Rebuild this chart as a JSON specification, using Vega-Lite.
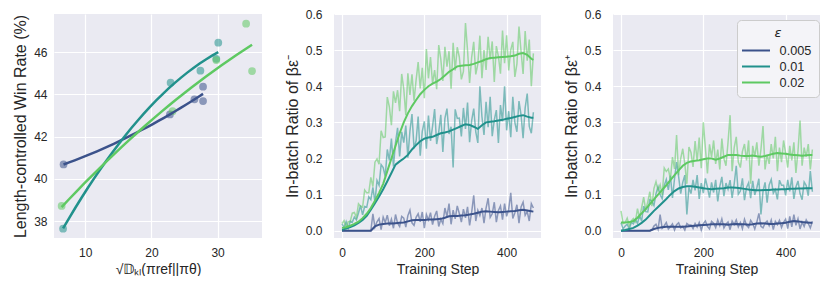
{
"$schema": "https://vega.github.io/schema/vega-lite/v6.json",
"background": "white",
"padding": {"left": 12, "top": 8, "right": 4, "bottom": 0},
"bounds": "flush",
"spacing": 72,
"resolve": {"legend": {"color": "independent"}},
"config": {
 "view": {"fill": "#eaeaf2", "stroke": null},
 "font": "Liberation Sans",
 "axis": {"domain": false, "ticks": false, "gridColor": "#ffffff", "gridWidth": 1.2, "labelFont": "Liberation Sans", "labelFontSize": 12, "labelColor": "#262626", "titleFont": "Liberation Sans", "titleFontSize": 14, "titleFontWeight": "normal", "titleColor": "#262626", "labelFlush": false},
 "axisX": {"labelPadding": 9, "titlePadding": 4},
 "axisY": {"labelPadding": 12, "titlePadding": 5, "titleFontSize": 16}
},
"datasets": {
 "scatter": [
  {"e":"0.005","kl":6.74,"wr":40.68},{"e":"0.005","kl":22.8,"wr":43.05},{"e":"0.005","kl":26.5,"wr":43.76},{"e":"0.005","kl":27.8,"wr":44.36},{"e":"0.005","kl":27.8,"wr":43.68},
  {"e":"0.01","kl":6.67,"wr":37.64},{"e":"0.01","kl":22.9,"wr":44.55},{"e":"0.01","kl":27.4,"wr":45.12},{"e":"0.01","kl":29.8,"wr":45.68},{"e":"0.01","kl":30.1,"wr":46.44},
  {"e":"0.02","kl":6.45,"wr":38.72},{"e":"0.02","kl":23.2,"wr":43.2},{"e":"0.02","kl":29.8,"wr":45.62},{"e":"0.02","kl":34.3,"wr":47.34},{"e":"0.02","kl":35.2,"wr":45.1}
 ],
 "raw": [
  {"e":"0.005","x":0,"m":0,"p":0},{"e":"0.005","x":5,"m":0,"p":0},{"e":"0.005","x":10,"m":0,"p":0},{"e":"0.005","x":15,"m":0,"p":0},{"e":"0.005","x":20,"m":0,"p":0},{"e":"0.005","x":25,"m":0,"p":0},{"e":"0.005","x":30,"m":0,"p":0},{"e":"0.005","x":35,"m":0,"p":0},{"e":"0.005","x":40,"m":0,"p":0},{"e":"0.005","x":45,"m":0,"p":0},{"e":"0.005","x":50,"m":0,"p":0},{"e":"0.005","x":55,"m":0,"p":0},{"e":"0.005","x":60,"m":0,"p":0},{"e":"0.005","x":65,"m":0,"p":0},{"e":"0.005","x":70,"m":0,"p":0},
  {"e":"0.005","x":75,"m":0.047,"p":0.002},{"e":"0.005","x":80,"m":0.010,"p":0.013},{"e":"0.005","x":85,"m":0.025,"p":0.018},{"e":"0.005","x":90,"m":0.034,"p":0.004},{"e":"0.005","x":95,"m":0.003,"p":0.045},{"e":"0.005","x":100,"m":0.038,"p":0.007},{"e":"0.005","x":105,"m":0.023,"p":0.014},{"e":"0.005","x":110,"m":0.043,"p":0.023},{"e":"0.005","x":115,"m":0.014,"p":0.005},{"e":"0.005","x":120,"m":0.032,"p":0.011},{"e":"0.005","x":125,"m":0.007,"p":0.019},{"e":"0.005","x":130,"m":0.045,"p":0.002},{"e":"0.005","x":135,"m":0.021,"p":0.017},{"e":"0.005","x":140,"m":0.012,"p":0.022},{"e":"0.005","x":145,"m":0.040,"p":0.008},
  {"e":"0.005","x":150,"m":0.035,"p":0.012},{"e":"0.005","x":155,"m":0.010,"p":0.002},{"e":"0.005","x":160,"m":0.042,"p":0.020},{"e":"0.005","x":165,"m":0.057,"p":0.016},{"e":"0.005","x":170,"m":0.022,"p":0.016},{"e":"0.005","x":175,"m":0.015,"p":0.006},{"e":"0.005","x":180,"m":0.037,"p":0.020},{"e":"0.005","x":185,"m":0.047,"p":0.010},{"e":"0.005","x":190,"m":0.025,"p":0.023},{"e":"0.005","x":195,"m":0.052,"p":0.002},{"e":"0.005","x":200,"m":0.007,"p":0.020},{"e":"0.005","x":205,"m":0.045,"p":0.027},{"e":"0.005","x":210,"m":0.030,"p":0.012},{"e":"0.005","x":215,"m":0.050,"p":0.005},{"e":"0.005","x":220,"m":0.017,"p":0.026},{"e":"0.005","x":225,"m":0.040,"p":0.021},{"e":"0.005","x":230,"m":0.055,"p":0.009},{"e":"0.005","x":235,"m":0.012,"p":0.030},{"e":"0.005","x":240,"m":0.032,"p":0.014},{"e":"0.005","x":245,"m":0.020,"p":0.033},
  {"e":"0.005","x":250,"m":0.063,"p":0.008},{"e":"0.005","x":255,"m":0.039,"p":0.018},{"e":"0.005","x":260,"m":0.075,"p":0.024},{"e":"0.005","x":265,"m":0.018,"p":0.003},{"e":"0.005","x":270,"m":0.057,"p":0.027},{"e":"0.005","x":275,"m":0.033,"p":0.017},{"e":"0.005","x":280,"m":0.069,"p":0.030},{"e":"0.005","x":285,"m":0.048,"p":0.011},{"e":"0.005","x":290,"m":0.024,"p":0.023},{"e":"0.005","x":295,"m":0.060,"p":0.006},{"e":"0.005","x":300,"m":0.036,"p":0.032},{"e":"0.005","x":305,"m":0.066,"p":0.015},{"e":"0.005","x":310,"m":0.015,"p":0.009},{"e":"0.005","x":315,"m":0.051,"p":0.029},{"e":"0.005","x":320,"m":0.098,"p":0.020},{"e":"0.005","x":325,"m":0.027,"p":0.005},{"e":"0.005","x":330,"m":0.057,"p":0.024},{"e":"0.005","x":335,"m":0.042,"p":0.048},{"e":"0.005","x":340,"m":0.063,"p":0.012},{"e":"0.005","x":345,"m":0.021,"p":0.008},
  {"e":"0.005","x":350,"m":0.063,"p":0.021},{"e":"0.005","x":355,"m":0.090,"p":0.027},{"e":"0.005","x":360,"m":0.037,"p":0.014},{"e":"0.005","x":365,"m":0.047,"p":0.030},{"e":"0.005","x":370,"m":0.079,"p":0.003},{"e":"0.005","x":375,"m":0.024,"p":0.026},{"e":"0.005","x":380,"m":0.056,"p":0.017},{"e":"0.005","x":385,"m":0.069,"p":0.029},{"e":"0.005","x":390,"m":0.031,"p":0.009},{"e":"0.005","x":395,"m":0.075,"p":0.023},{"e":"0.005","x":400,"m":0.040,"p":0.032},{"e":"0.005","x":405,"m":0.059,"p":0.006},{"e":"0.005","x":410,"m":0.105,"p":0.040},{"e":"0.005","x":415,"m":0.034,"p":0.011},{"e":"0.005","x":420,"m":0.050,"p":0.045},{"e":"0.005","x":425,"m":0.072,"p":0.015},{"e":"0.005","x":430,"m":0.021,"p":0.033},{"e":"0.005","x":435,"m":0.066,"p":0.005},{"e":"0.005","x":440,"m":0.079,"p":0.024},{"e":"0.005","x":445,"m":0.043,"p":0.012},{"e":"0.005","x":450,"m":0.053,"p":0.030},{"e":"0.005","x":455,"m":0.027,"p":0.020},{"e":"0.005","x":460,"m":0.075,"p":0.008},{"e":"0.005","x":465,"m":0.063,"p":0.026},

  {"e":"0.01","x":0,"m":0.019,"p":0.022},{"e":"0.01","x":5,"m":0.009,"p":0.005},{"e":"0.01","x":10,"m":0.025,"p":0.013},{"e":"0.01","x":15,"m":0.006,"p":0.018},{"e":"0.01","x":20,"m":0.027,"p":0.005},{"e":"0.01","x":25,"m":0.024,"p":0.023},{"e":"0.01","x":30,"m":0.038,"p":0.019},{"e":"0.01","x":35,"m":0.030,"p":0.032},{"e":"0.01","x":40,"m":0.049,"p":0.020},{"e":"0.01","x":45,"m":0.070,"p":0.042},
  {"e":"0.01","x":50,"m":0.044,"p":0.027},{"e":"0.01","x":55,"m":0.067,"p":0.068},{"e":"0.01","x":60,"m":0.065,"p":0.053},{"e":"0.01","x":65,"m":0.094,"p":0.052},{"e":"0.01","x":70,"m":0.086,"p":0.086},{"e":"0.01","x":75,"m":0.120,"p":0.082},{"e":"0.01","x":80,"m":0.079,"p":0.070},{"e":"0.01","x":85,"m":0.139,"p":0.103},{"e":"0.01","x":90,"m":0.126,"p":0.122},{"e":"0.01","x":95,"m":0.183,"p":0.100},
  {"e":"0.01","x":100,"m":0.175,"p":0.089},{"e":"0.01","x":105,"m":0.150,"p":0.125},{"e":"0.01","x":110,"m":0.225,"p":0.142},{"e":"0.01","x":115,"m":0.195,"p":0.113},{"e":"0.01","x":120,"m":0.255,"p":0.153},{"e":"0.01","x":125,"m":0.178,"p":0.091},{"e":"0.01","x":130,"m":0.245,"p":0.144},{"e":"0.01","x":135,"m":0.285,"p":0.190},{"e":"0.01","x":140,"m":0.206,"p":0.150},{"e":"0.01","x":145,"m":0.274,"p":0.103},
  {"e":"0.01","x":150,"m":0.244,"p":0.134},{"e":"0.01","x":155,"m":0.291,"p":0.154},{"e":"0.01","x":160,"m":0.202,"p":0.045},{"e":"0.01","x":165,"m":0.276,"p":0.120},{"e":"0.01","x":170,"m":0.323,"p":0.103},{"e":"0.01","x":175,"m":0.228,"p":0.141},{"e":"0.01","x":180,"m":0.249,"p":0.112},{"e":"0.01","x":185,"m":0.316,"p":0.154},{"e":"0.01","x":190,"m":0.208,"p":0.088},{"e":"0.01","x":195,"m":0.275,"p":0.132},
  {"e":"0.01","x":200,"m":0.303,"p":0.104},{"e":"0.01","x":205,"m":0.227,"p":0.145},{"e":"0.01","x":210,"m":0.319,"p":0.121},{"e":"0.01","x":215,"m":0.249,"p":0.092},{"e":"0.01","x":220,"m":0.289,"p":0.134},{"e":"0.01","x":225,"m":0.337,"p":0.106},{"e":"0.01","x":230,"m":0.240,"p":0.141},{"e":"0.01","x":235,"m":0.274,"p":0.081},{"e":"0.01","x":240,"m":0.321,"p":0.123},{"e":"0.01","x":245,"m":0.218,"p":0.149},
  {"e":"0.01","x":250,"m":0.311,"p":0.096},{"e":"0.01","x":255,"m":0.338,"p":0.132},{"e":"0.01","x":260,"m":0.268,"p":0.115},{"e":"0.01","x":265,"m":0.288,"p":0.140},{"e":"0.01","x":270,"m":0.175,"p":0.091},{"e":"0.01","x":275,"m":0.336,"p":0.130},{"e":"0.01","x":280,"m":0.311,"p":0.180},{"e":"0.01","x":285,"m":0.312,"p":0.101},{"e":"0.01","x":290,"m":0.261,"p":0.110},{"e":"0.01","x":295,"m":0.340,"p":0.145},
  {"e":"0.01","x":300,"m":0.282,"p":0.085},{"e":"0.01","x":305,"m":0.355,"p":0.120},{"e":"0.01","x":310,"m":0.245,"p":0.133},{"e":"0.01","x":315,"m":0.305,"p":0.090},{"e":"0.01","x":320,"m":0.338,"p":0.138},{"e":"0.01","x":325,"m":0.274,"p":0.099},{"e":"0.01","x":330,"m":0.243,"p":0.119},{"e":"0.01","x":335,"m":0.400,"p":0.144},{"e":"0.01","x":340,"m":0.316,"p":0.045},{"e":"0.01","x":345,"m":0.265,"p":0.109},
  {"e":"0.01","x":350,"m":0.357,"p":0.134},{"e":"0.01","x":355,"m":0.287,"p":0.078},{"e":"0.01","x":360,"m":0.371,"p":0.127},{"e":"0.01","x":365,"m":0.262,"p":0.142},{"e":"0.01","x":370,"m":0.307,"p":0.104},{"e":"0.01","x":375,"m":0.334,"p":0.114},{"e":"0.01","x":380,"m":0.243,"p":0.087},{"e":"0.01","x":385,"m":0.348,"p":0.140},{"e":"0.01","x":390,"m":0.303,"p":0.126},{"e":"0.01","x":395,"m":0.400,"p":0.126},
  {"e":"0.01","x":400,"m":0.278,"p":0.098},{"e":"0.01","x":405,"m":0.331,"p":0.141},{"e":"0.01","x":410,"m":0.259,"p":0.109},{"e":"0.01","x":415,"m":0.371,"p":0.148},{"e":"0.01","x":420,"m":0.299,"p":0.088},{"e":"0.01","x":425,"m":0.274,"p":0.121},{"e":"0.01","x":430,"m":0.359,"p":0.138},{"e":"0.01","x":435,"m":0.321,"p":0.103},{"e":"0.01","x":440,"m":0.256,"p":0.086},{"e":"0.01","x":445,"m":0.340,"p":0.135},
  {"e":"0.01","x":450,"m":0.380,"p":0.125},{"e":"0.01","x":455,"m":0.289,"p":0.097},{"e":"0.01","x":460,"m":0.270,"p":0.165},{"e":"0.01","x":465,"m":0.328,"p":0.108},

  {"e":"0.02","x":0,"m":0.020,"p":0.055},{"e":"0.02","x":5,"m":0.028,"p":0.020},{"e":"0.02","x":10,"m":0.008,"p":0.023},{"e":"0.02","x":15,"m":0.025,"p":0.035},{"e":"0.02","x":20,"m":0.026,"p":0.014},{"e":"0.02","x":25,"m":0.049,"p":0.027},{"e":"0.02","x":30,"m":0.051,"p":0.034},{"e":"0.02","x":35,"m":0.037,"p":0.025},{"e":"0.02","x":40,"m":0.075,"p":0.061},{"e":"0.02","x":45,"m":0.068,"p":0.036},
  {"e":"0.02","x":50,"m":0.065,"p":0.063},{"e":"0.02","x":55,"m":0.113,"p":0.093},{"e":"0.02","x":60,"m":0.105,"p":0.057},{"e":"0.02","x":65,"m":0.105,"p":0.080},{"e":"0.02","x":70,"m":0.148,"p":0.108},{"e":"0.02","x":75,"m":0.122,"p":0.068},{"e":"0.02","x":80,"m":0.190,"p":0.117},{"e":"0.02","x":85,"m":0.199,"p":0.136},{"e":"0.02","x":90,"m":0.184,"p":0.111},{"e":"0.02","x":95,"m":0.277,"p":0.127},
  {"e":"0.02","x":100,"m":0.258,"p":0.099},{"e":"0.02","x":105,"m":0.260,"p":0.174},{"e":"0.02","x":110,"m":0.370,"p":0.164},{"e":"0.02","x":115,"m":0.343,"p":0.171},{"e":"0.02","x":120,"m":0.292,"p":0.143},{"e":"0.02","x":125,"m":0.386,"p":0.204},{"e":"0.02","x":130,"m":0.354,"p":0.171},{"e":"0.02","x":135,"m":0.389,"p":0.265},{"e":"0.02","x":140,"m":0.331,"p":0.154},{"e":"0.02","x":145,"m":0.434,"p":0.200},
  {"e":"0.02","x":150,"m":0.393,"p":0.227},{"e":"0.02","x":155,"m":0.320,"p":0.185},{"e":"0.02","x":160,"m":0.436,"p":0.130},{"e":"0.02","x":165,"m":0.376,"p":0.232},{"e":"0.02","x":170,"m":0.433,"p":0.217},{"e":"0.02","x":175,"m":0.360,"p":0.177},{"e":"0.02","x":180,"m":0.417,"p":0.248},{"e":"0.02","x":185,"m":0.467,"p":0.193},{"e":"0.02","x":190,"m":0.394,"p":0.258},{"e":"0.02","x":195,"m":0.451,"p":0.173},
  {"e":"0.02","x":200,"m":0.367,"p":0.300},{"e":"0.02","x":205,"m":0.503,"p":0.229},{"e":"0.02","x":210,"m":0.422,"p":0.159},{"e":"0.02","x":215,"m":0.481,"p":0.239},{"e":"0.02","x":220,"m":0.407,"p":0.204},{"e":"0.02","x":225,"m":0.445,"p":0.250},{"e":"0.02","x":230,"m":0.392,"p":0.185},{"e":"0.02","x":235,"m":0.514,"p":0.225},{"e":"0.02","x":240,"m":0.475,"p":0.170},{"e":"0.02","x":245,"m":0.415,"p":0.255},
  {"e":"0.02","x":250,"m":0.509,"p":0.200},{"e":"0.02","x":255,"m":0.454,"p":0.180},{"e":"0.02","x":260,"m":0.497,"p":0.245},{"e":"0.02","x":265,"m":0.393,"p":0.320},{"e":"0.02","x":270,"m":0.520,"p":0.165},{"e":"0.02","x":275,"m":0.444,"p":0.230},{"e":"0.02","x":280,"m":0.508,"p":0.260},{"e":"0.02","x":285,"m":0.481,"p":0.190},{"e":"0.02","x":290,"m":0.419,"p":0.175},{"e":"0.02","x":295,"m":0.441,"p":0.220},
  {"e":"0.02","x":300,"m":0.575,"p":0.240},{"e":"0.02","x":305,"m":0.499,"p":0.195},{"e":"0.02","x":310,"m":0.409,"p":0.250},{"e":"0.02","x":315,"m":0.480,"p":0.130},{"e":"0.02","x":320,"m":0.523,"p":0.235},{"e":"0.02","x":325,"m":0.433,"p":0.205},{"e":"0.02","x":330,"m":0.462,"p":0.245},{"e":"0.02","x":335,"m":0.540,"p":0.180},{"e":"0.02","x":340,"m":0.422,"p":0.225},{"e":"0.02","x":345,"m":0.500,"p":0.290},
  {"e":"0.02","x":350,"m":0.445,"p":0.170},{"e":"0.02","x":355,"m":0.537,"p":0.210},{"e":"0.02","x":360,"m":0.474,"p":0.185},{"e":"0.02","x":365,"m":0.524,"p":0.240},{"e":"0.02","x":370,"m":0.412,"p":0.200},{"e":"0.02","x":375,"m":0.511,"p":0.260},{"e":"0.02","x":380,"m":0.483,"p":0.165},{"e":"0.02","x":385,"m":0.435,"p":0.230},{"e":"0.02","x":390,"m":0.554,"p":0.190},{"e":"0.02","x":395,"m":0.464,"p":0.250},
  {"e":"0.02","x":400,"m":0.541,"p":0.215},{"e":"0.02","x":405,"m":0.444,"p":0.175},{"e":"0.02","x":410,"m":0.501,"p":0.235},{"e":"0.02","x":415,"m":0.523,"p":0.195},{"e":"0.02","x":420,"m":0.426,"p":0.245},{"e":"0.02","x":425,"m":0.462,"p":0.160},{"e":"0.02","x":430,"m":0.565,"p":0.220},{"e":"0.02","x":435,"m":0.497,"p":0.305},{"e":"0.02","x":440,"m":0.434,"p":0.180},{"e":"0.02","x":445,"m":0.553,"p":0.230},
  {"e":"0.02","x":450,"m":0.471,"p":0.205},{"e":"0.02","x":455,"m":0.529,"p":0.240},{"e":"0.02","x":460,"m":0.400,"p":0.170},{"e":"0.02","x":465,"m":0.491,"p":0.225}
 ],
 "sm": [
  {"e":"0.005","x":0,"m":0,"p":0},{"e":"0.005","x":10,"m":0,"p":0},{"e":"0.005","x":20,"m":0,"p":0},{"e":"0.005","x":30,"m":0,"p":0},{"e":"0.005","x":40,"m":0,"p":0},{"e":"0.005","x":50,"m":0,"p":0},{"e":"0.005","x":60,"m":0,"p":0},{"e":"0.005","x":70,"m":0,"p":0},{"e":"0.005","x":80,"m":0.012,"p":0.005},{"e":"0.005","x":90,"m":0.017,"p":0.008},{"e":"0.005","x":100,"m":0.019,"p":0.010},{"e":"0.005","x":110,"m":0.020,"p":0.011},{"e":"0.005","x":120,"m":0.020,"p":0.011},{"e":"0.005","x":130,"m":0.021,"p":0.011},{"e":"0.005","x":140,"m":0.022,"p":0.011},{"e":"0.005","x":150,"m":0.023,"p":0.011},{"e":"0.005","x":160,"m":0.026,"p":0.012},{"e":"0.005","x":170,"m":0.029,"p":0.013},{"e":"0.005","x":180,"m":0.030,"p":0.014},{"e":"0.005","x":190,"m":0.030,"p":0.015},{"e":"0.005","x":200,"m":0.030,"p":0.016},{"e":"0.005","x":210,"m":0.031,"p":0.017},{"e":"0.005","x":220,"m":0.031,"p":0.018},{"e":"0.005","x":230,"m":0.032,"p":0.018},{"e":"0.005","x":240,"m":0.033,"p":0.018},{"e":"0.005","x":250,"m":0.036,"p":0.018},{"e":"0.005","x":260,"m":0.040,"p":0.017},{"e":"0.005","x":270,"m":0.041,"p":0.018},{"e":"0.005","x":280,"m":0.041,"p":0.019},{"e":"0.005","x":290,"m":0.042,"p":0.018},{"e":"0.005","x":300,"m":0.043,"p":0.018},{"e":"0.005","x":310,"m":0.045,"p":0.017},{"e":"0.005","x":320,"m":0.047,"p":0.018},{"e":"0.005","x":330,"m":0.050,"p":0.020},{"e":"0.005","x":340,"m":0.053,"p":0.021},{"e":"0.005","x":350,"m":0.054,"p":0.020},{"e":"0.005","x":360,"m":0.053,"p":0.019},{"e":"0.005","x":370,"m":0.052,"p":0.019},{"e":"0.005","x":380,"m":0.051,"p":0.020},{"e":"0.005","x":390,"m":0.052,"p":0.021},{"e":"0.005","x":400,"m":0.053,"p":0.022},{"e":"0.005","x":410,"m":0.054,"p":0.025},{"e":"0.005","x":420,"m":0.055,"p":0.027},{"e":"0.005","x":430,"m":0.057,"p":0.026},{"e":"0.005","x":440,"m":0.058,"p":0.024},{"e":"0.005","x":450,"m":0.056,"p":0.023},{"e":"0.005","x":460,"m":0.054,"p":0.022},{"e":"0.005","x":465,"m":0.053,"p":0.022},
  {"e":"0.01","x":0,"m":0.003,"p":0},{"e":"0.01","x":10,"m":0.006,"p":0.002},{"e":"0.01","x":20,"m":0.010,"p":0.005},{"e":"0.01","x":30,"m":0.015,"p":0.008},{"e":"0.01","x":40,"m":0.022,"p":0.014},{"e":"0.01","x":50,"m":0.030,"p":0.022},{"e":"0.01","x":60,"m":0.041,"p":0.031},{"e":"0.01","x":70,"m":0.058,"p":0.043},{"e":"0.01","x":80,"m":0.076,"p":0.055},{"e":"0.01","x":90,"m":0.095,"p":0.066},{"e":"0.01","x":100,"m":0.115,"p":0.077},{"e":"0.01","x":110,"m":0.137,"p":0.088},{"e":"0.01","x":120,"m":0.160,"p":0.100},{"e":"0.01","x":130,"m":0.183,"p":0.110},{"e":"0.01","x":140,"m":0.192,"p":0.117},{"e":"0.01","x":150,"m":0.200,"p":0.121},{"e":"0.01","x":160,"m":0.210,"p":0.123},{"e":"0.01","x":170,"m":0.225,"p":0.123},{"e":"0.01","x":180,"m":0.237,"p":0.122},{"e":"0.01","x":190,"m":0.248,"p":0.120},{"e":"0.01","x":200,"m":0.255,"p":0.118},{"e":"0.01","x":210,"m":0.258,"p":0.116},{"e":"0.01","x":220,"m":0.260,"p":0.115},{"e":"0.01","x":230,"m":0.265,"p":0.116},{"e":"0.01","x":240,"m":0.270,"p":0.117},{"e":"0.01","x":250,"m":0.272,"p":0.118},{"e":"0.01","x":260,"m":0.275,"p":0.120},{"e":"0.01","x":270,"m":0.280,"p":0.120},{"e":"0.01","x":280,"m":0.285,"p":0.119},{"e":"0.01","x":290,"m":0.290,"p":0.118},{"e":"0.01","x":300,"m":0.295,"p":0.116},{"e":"0.01","x":310,"m":0.293,"p":0.114},{"e":"0.01","x":320,"m":0.288,"p":0.113},{"e":"0.01","x":330,"m":0.282,"p":0.112},{"e":"0.01","x":340,"m":0.292,"p":0.112},{"e":"0.01","x":350,"m":0.300,"p":0.113},{"e":"0.01","x":360,"m":0.302,"p":0.113},{"e":"0.01","x":370,"m":0.303,"p":0.114},{"e":"0.01","x":380,"m":0.305,"p":0.114},{"e":"0.01","x":390,"m":0.307,"p":0.115},{"e":"0.01","x":400,"m":0.310,"p":0.115},{"e":"0.01","x":410,"m":0.312,"p":0.116},{"e":"0.01","x":420,"m":0.315,"p":0.116},{"e":"0.01","x":430,"m":0.318,"p":0.117},{"e":"0.01","x":440,"m":0.320,"p":0.117},{"e":"0.01","x":450,"m":0.316,"p":0.118},{"e":"0.01","x":460,"m":0.313,"p":0.118},{"e":"0.01","x":465,"m":0.313,"p":0.118},
  {"e":"0.02","x":0,"m":0.008,"p":0.023},{"e":"0.02","x":10,"m":0.010,"p":0.023},{"e":"0.02","x":20,"m":0.014,"p":0.024},{"e":"0.02","x":30,"m":0.019,"p":0.027},{"e":"0.02","x":40,"m":0.025,"p":0.036},{"e":"0.02","x":50,"m":0.035,"p":0.048},{"e":"0.02","x":60,"m":0.047,"p":0.060},{"e":"0.02","x":70,"m":0.063,"p":0.074},{"e":"0.02","x":80,"m":0.083,"p":0.087},{"e":"0.02","x":90,"m":0.105,"p":0.100},{"e":"0.02","x":100,"m":0.130,"p":0.113},{"e":"0.02","x":110,"m":0.165,"p":0.126},{"e":"0.02","x":120,"m":0.200,"p":0.140},{"e":"0.02","x":130,"m":0.235,"p":0.154},{"e":"0.02","x":140,"m":0.270,"p":0.167},{"e":"0.02","x":150,"m":0.300,"p":0.180},{"e":"0.02","x":160,"m":0.325,"p":0.188},{"e":"0.02","x":170,"m":0.345,"p":0.192},{"e":"0.02","x":180,"m":0.362,"p":0.194},{"e":"0.02","x":190,"m":0.378,"p":0.195},{"e":"0.02","x":200,"m":0.390,"p":0.198},{"e":"0.02","x":210,"m":0.400,"p":0.200},{"e":"0.02","x":220,"m":0.407,"p":0.200},{"e":"0.02","x":230,"m":0.413,"p":0.197},{"e":"0.02","x":240,"m":0.420,"p":0.200},{"e":"0.02","x":250,"m":0.430,"p":0.205},{"e":"0.02","x":260,"m":0.440,"p":0.210},{"e":"0.02","x":270,"m":0.447,"p":0.210},{"e":"0.02","x":280,"m":0.455,"p":0.210},{"e":"0.02","x":290,"m":0.457,"p":0.208},{"e":"0.02","x":300,"m":0.458,"p":0.207},{"e":"0.02","x":310,"m":0.459,"p":0.207},{"e":"0.02","x":320,"m":0.462,"p":0.208},{"e":"0.02","x":330,"m":0.466,"p":0.206},{"e":"0.02","x":340,"m":0.470,"p":0.205},{"e":"0.02","x":350,"m":0.475,"p":0.207},{"e":"0.02","x":360,"m":0.478,"p":0.210},{"e":"0.02","x":370,"m":0.479,"p":0.213},{"e":"0.02","x":380,"m":0.480,"p":0.215},{"e":"0.02","x":390,"m":0.481,"p":0.214},{"e":"0.02","x":400,"m":0.482,"p":0.213},{"e":"0.02","x":410,"m":0.483,"p":0.211},{"e":"0.02","x":420,"m":0.485,"p":0.210},{"e":"0.02","x":430,"m":0.490,"p":0.209},{"e":"0.02","x":440,"m":0.492,"p":0.208},{"e":"0.02","x":450,"m":0.487,"p":0.209},{"e":"0.02","x":460,"m":0.476,"p":0.210},{"e":"0.02","x":465,"m":0.473,"p":0.210}
 ]
},
"hconcat": [
 {
  "width": 208, "height": 224,
  "data": {"name": "scatter"},
  "encoding": {
   "x": {"field": "kl", "type": "quantitative", "scale": {"domain": [5.3, 36.7], "nice": false, "zero": false}, "axis": {"values": [10, 20, 30], "title": "√𝔻ₖₗ(πref||πθ)"}},
   "y": {"field": "wr", "type": "quantitative", "scale": {"domain": [37.2, 47.8], "nice": false, "zero": false}, "axis": {"values": [38, 40, 42, 44, 46], "title": "Length-controlled Win Rate (%)", "labelPadding": 7}},
   "color": {"field": "e", "type": "nominal", "scale": {"domain": ["0.005", "0.01", "0.02"], "range": ["#3b528b", "#21918c", "#5ec962"]}, "legend": null}
  },
  "layer": [
   {"mark": {"type": "circle", "size": 60, "opacity": 0.55}},
   {"transform": [{"regression": "wr", "on": "kl", "groupby": ["e"], "method": "poly", "order": 2}],
    "mark": {"type": "line", "strokeWidth": 2.5}}
  ]
 },
 {
  "width": 207, "height": 224,
  "encoding": {
   "x": {"field": "x", "type": "quantitative", "scale": {"domain": [-19.5, 483.5], "nice": false, "zero": false}, "axis": {"values": [0, 200, 400], "title": "Training Step"}},
   "y": {"field": "m", "type": "quantitative", "scale": {"domain": [-0.02, 0.6], "nice": false, "zero": false}, "axis": {"values": [0, 0.1, 0.2, 0.3, 0.4, 0.5, 0.6], "format": ".1f", "title": "In-batch Ratio of βε⁻"}},
   "color": {"field": "e", "type": "nominal", "scale": {"domain": ["0.005", "0.01", "0.02"], "range": ["#3b528b", "#21918c", "#5ec962"]}, "legend": null}
  },
  "layer": [
   {"data": {"name": "raw"}, "mark": {"type": "line", "strokeWidth": 1.5, "opacity": 0.55}},
   {"data": {"name": "sm"}, "mark": {"type": "line", "strokeWidth": 2}}
  ]
 },
 {
  "width": 207, "height": 224,
  "encoding": {
   "x": {"field": "x", "type": "quantitative", "scale": {"domain": [-19.5, 483.5], "nice": false, "zero": false}, "axis": {"values": [0, 200, 400], "title": "Training Step"}},
   "y": {"field": "p", "type": "quantitative", "scale": {"domain": [-0.02, 0.6], "nice": false, "zero": false}, "axis": {"values": [0, 0.1, 0.2, 0.3, 0.4, 0.5, 0.6], "format": ".1f", "title": "In-batch Ratio of βε⁺"}},
   "color": {"field": "e", "type": "nominal", "scale": {"domain": ["0.005", "0.01", "0.02"], "range": ["#3b528b", "#21918c", "#5ec962"]},
      "legend": {"title": "ε", "orient": "none", "legendX": 124, "legendY": 6, "titleFont": "DejaVu Sans", "titleFontStyle": "italic", "titleFontSize": 13, "titleFontWeight": "normal", "titleColor": "#262626", "titleAnchor": "middle", "titlePadding": 2, "labelFont": "Liberation Sans", "labelFontSize": 12.7, "labelColor": "#262626", "labelOffset": 18.6, "symbolType": "M-1.4,0H2.333", "symbolSize": 225, "symbolStrokeWidth": 2, "symbolOpacity": 1, "padding": 7, "rowPadding": 0, "fillColor": "#f4f4f8", "strokeColor": "#cccccc", "cornerRadius": 4}}
  },
  "layer": [
   {"data": {"name": "raw"}, "mark": {"type": "line", "strokeWidth": 1.5, "opacity": 0.55}},
   {"data": {"name": "sm"}, "mark": {"type": "line", "strokeWidth": 2}}
  ]
 }
]
}
